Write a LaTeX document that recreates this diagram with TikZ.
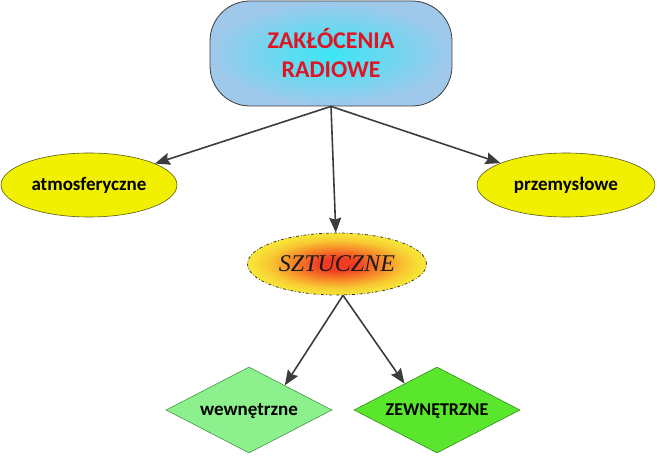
\documentclass[tikz,border=0pt]{standalone}
\usepackage{fontspec}
\setmainfont{Carlito}
\newfontfamily\serifit{Liberation Serif}
\usetikzlibrary{shapes.geometric,arrows.meta,calc}
\definecolor{arrowgray}{RGB}{60,60,60}
\definecolor{boxblue}{RGB}{160,200,235}
\definecolor{boxcyan}{RGB}{60,230,245}
\definecolor{titlered}{RGB}{225,20,35}
\definecolor{yel}{RGB}{240,240,0}
\definecolor{yelborder}{RGB}{90,90,20}
\definecolor{lgreen}{RGB}{140,240,140}
\definecolor{lgreenb}{RGB}{70,150,70}
\definecolor{dgreen}{RGB}{90,230,45}
\definecolor{dgreenb}{RGB}{50,140,30}
\definecolor{sz0}{RGB}{240,60,35}
\definecolor{sz1}{RGB}{246,130,40}
\definecolor{sz2}{RGB}{248,200,50}
\definecolor{sz3}{RGB}{248,228,56}
\pgfdeclareradialshading{sztshade}{\pgfpoint{0bp}{0bp}}{%
  color(0bp)=(sz0);
  color(5bp)=(sz0);
  color(12bp)=(sz1);
  color(19bp)=(sz2);
  color(24bp)=(sz3);
  color(50bp)=(sz3)}
\newcommand{\flattext}[1]{\makebox[0pt]{\raisebox{-0.6ex}[0pt][0pt]{#1}}}
\begin{document}
\begin{tikzpicture}[x=1pt,y=1pt,
  conn/.style={draw=arrowgray,line width=1.6pt,-{Stealth[length=15pt,width=12pt,inset=2pt]}},
  yellipse/.style={ellipse,draw=yelborder,line width=0.6pt,fill=yel,inner sep=0pt,
    font=\bfseries\fontsize{19}{21}\selectfont,text=black},
  gdiamond/.style={diamond,inner sep=0pt,line width=0.6pt,
    minimum width=166pt,minimum height=86pt,text=black}]
\useasboundingbox (0,0) rectangle (657,456);
\node[rectangle,rounded corners=40pt,draw=arrowgray,line width=0.8pt,
  inner color=boxcyan,outer color=boxblue,
  minimum width=242pt,minimum height=105pt,align=center,
  font=\bfseries\fontsize{24}{29}\selectfont,text=titlered] (top) at (331,402.5)
  {ZAKŁÓCENIA\\RADIOWE};
\node[yellipse,minimum width=176pt,minimum height=64pt] (atm) at (89,271) {atmosferyczne};
\node[yellipse,minimum width=178pt,minimum height=64pt] (prz) at (566,271) {przemysłowe};
\node[ellipse,draw=black!85,line width=0.7pt,dash dot,inner sep=0pt,
  shading=sztshade,
  minimum width=179pt,minimum height=62pt,
  font=\serifit\itshape\fontsize{24}{26}\selectfont,text=black!90] (szt) at (337,192) {SZTUCZNE};
\node[gdiamond,draw=lgreenb,fill=lgreen,font=\bfseries\fontsize{19}{21}\selectfont] (wew) at (249,46) {\flattext{wewnętrzne}};
\node[gdiamond,draw=dgreenb,fill=dgreen,font=\bfseries\fontsize{18}{20}\selectfont] (zew) at (437,46) {\flattext{ZEWNĘTRZNE}};
\coordinate (sb) at ($(szt.south)+(6,0)$);
\draw[conn] (top.south) -- (atm);
\draw[conn] (top.south) -- (prz);
\draw[conn] (top.south) -- (szt);
\draw[conn] (sb) -- ($(wew.north)!0.43!(wew.east)$);
\draw[conn] (sb) -- ($(zew.north)!0.39!(zew.west)$);
\end{tikzpicture}
\end{document}
